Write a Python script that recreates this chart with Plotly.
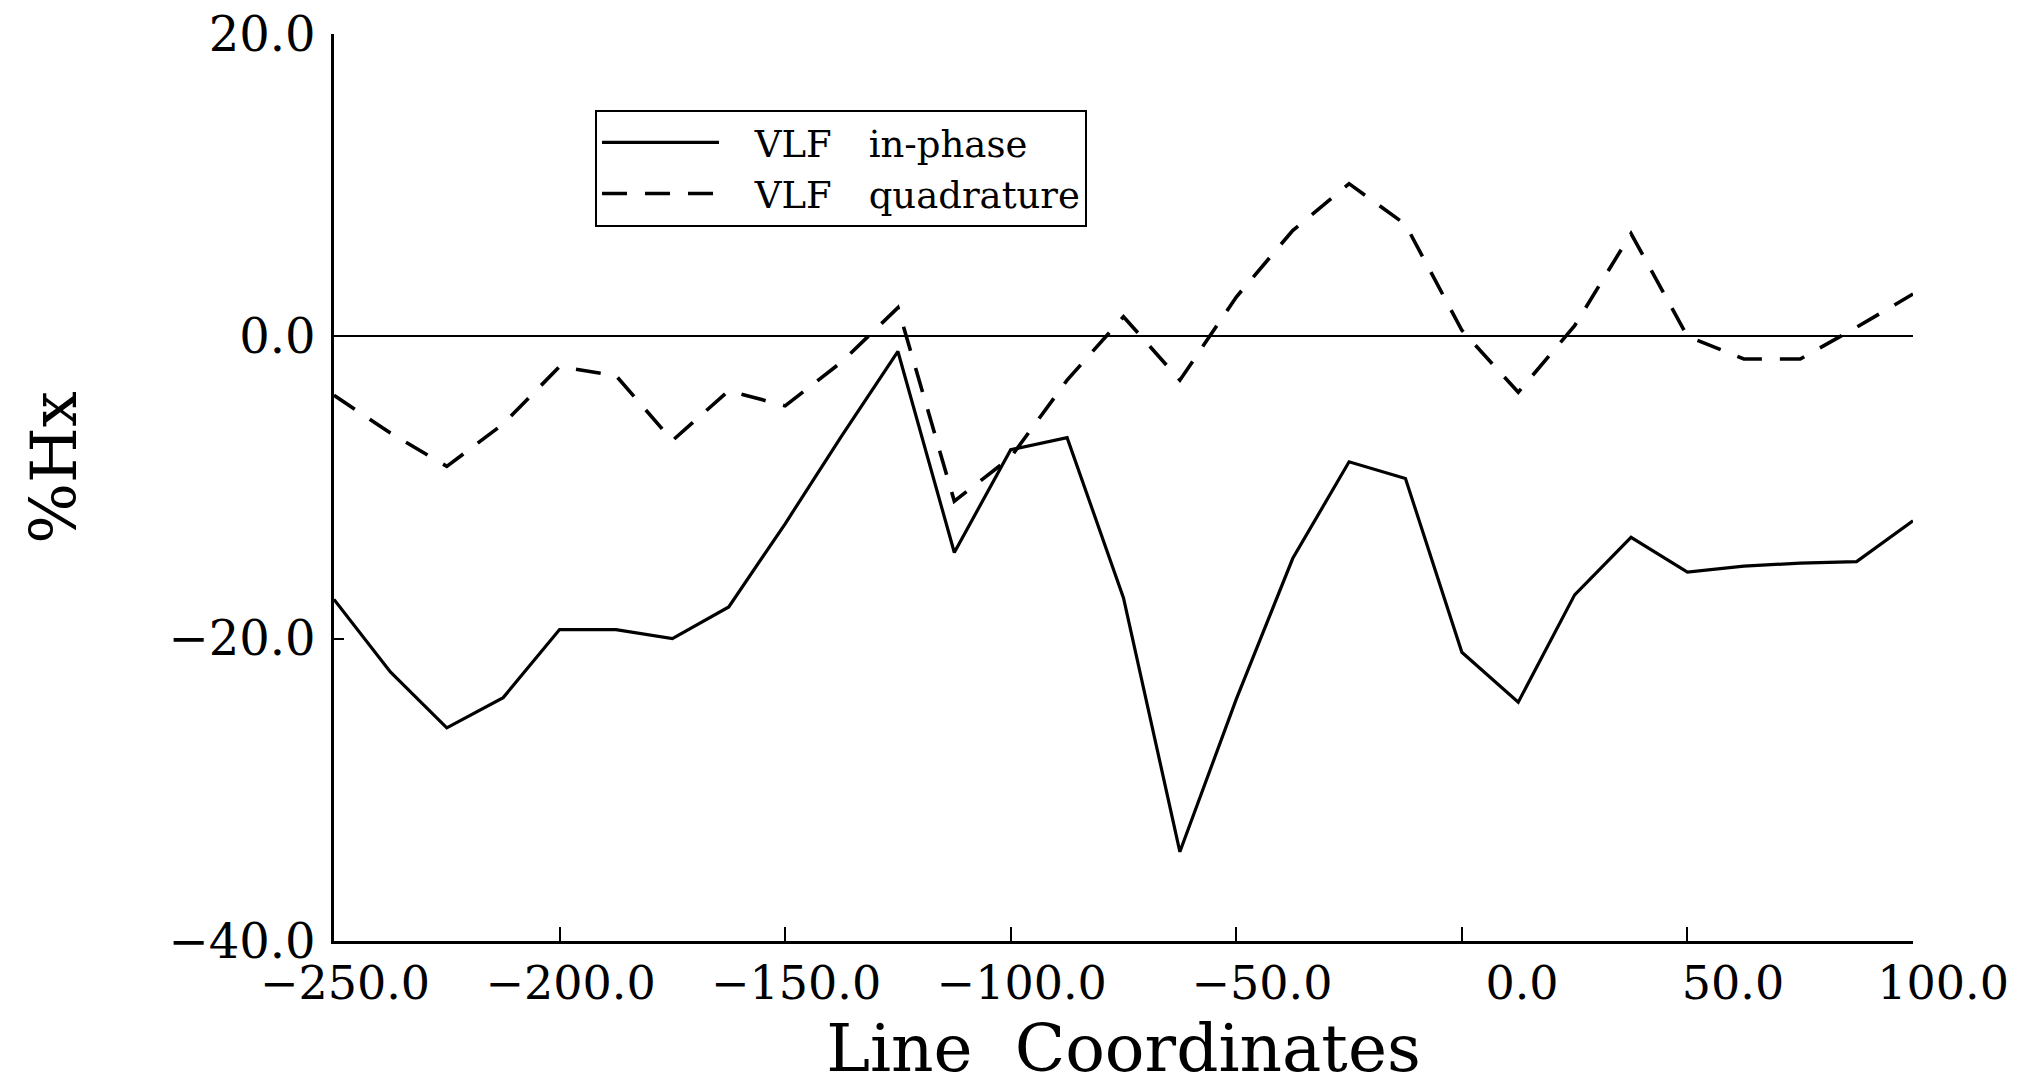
import plotly.graph_objects as go

# Station coordinates along the line (12.5 m spacing)
line_coords = [-250.0, -237.5, -225.0, -212.5, -200.0, -187.5, -175.0, -162.5, -150.0, -137.5,
               -125.0, -112.5, -100.0, -87.5, -75.0, -62.5, -50.0, -37.5, -25.0, -12.5,
               0.0, 12.5, 25.0, 37.5, 50.0, 62.5, 75.0, 87.5, 100.0]

vlf_in_phase = [-17.4, -22.2, -25.9, -23.9, -19.4, -19.4, -20.0, -17.9, -12.4, -6.6,
                -1.0, -14.3, -7.5, -6.7, -17.3, -34.1, -24.0, -14.7, -8.3, -9.4,
                -20.9, -24.2, -17.1, -13.3, -15.6, -15.2, -15.0, -14.9, -12.2]

vlf_quadrature = [-3.9, -6.4, -8.6, -5.8, -2.0, -2.6, -6.9, -3.6, -4.6, -1.7,
                  1.9, -10.9, -8.0, -2.9, 1.3, -2.9, 2.6, 7.0, 10.1, 7.4,
                  0.4, -3.7, 0.7, 6.8, 0.0, -1.5, -1.5, 0.6, 2.8]

series_names = ["\u2002\u2004VLF\u2003in-phase", "\u2002\u2004VLF\u2003quadrature"]

x_tickvals = [-250, -200, -150, -100, -50, 0, 50, 100]
x_ticktext = ["\u2212250.0", "\u2212200.0", "\u2212150.0", "\u2212100.0",
              "\u2007\u221250.0", "\u2003\u2007\u20020.0", "\u2003\u200250.0", "\u2002\u2004100.0"]
y_tickvals = [-40, -20, 0, 20]
y_ticktext = ["\u221240.0", "\u221220.0", "0.0", "20.0"]

x_title = "Line\u00a0\u00a0Coordinates"
y_title = "%Hx"

FONT = "DejaVu Serif"

fig = go.Figure()
fig.add_trace(go.Scatter(
    x=line_coords, y=vlf_in_phase, mode="lines", name=series_names[0],
    line=dict(color="black", width=3.2, dash="solid"),
))
fig.add_trace(go.Scatter(
    x=line_coords, y=vlf_quadrature, mode="lines", name=series_names[1],
    line=dict(color="black", width=3.6, dash="25px,18px"),
))

fig.update_layout(
    template="none",
    width=2028, height=1087,
    paper_bgcolor="white", plot_bgcolor="white",
    margin=dict(l=334, r=115, t=34, b=146, autoexpand=False),
    font=dict(family=FONT, color="black", size=48),
    showlegend=True,
    legend=dict(
        x=0.1653, y=0.9163, xanchor="left", yanchor="top",
        bordercolor="black", borderwidth=2, bgcolor="white",
        font=dict(family=FONT, size=37, color="black"),
        itemwidth=117,
    ),
    xaxis=dict(
        range=[-250, 100], showgrid=False, zeroline=False,
        showline=True, linecolor="black", linewidth=2.8, mirror=False,
        ticks="inside", ticklen=14, tickwidth=1.5, tickcolor="black",
        tickvals=x_tickvals, ticktext=x_ticktext,
        tickfont=dict(family=FONT, size=46, color="black"),
        ticklabelshift=11, ticklabelstandoff=0,
        title=dict(text=x_title, font=dict(family=FONT, size=66, color="black"),
                   standoff=22),
        automargin=False,
    ),
    yaxis=dict(
        range=[-40, 20], showgrid=False,
        zeroline=True, zerolinecolor="black", zerolinewidth=1.6,
        showline=True, linecolor="black", linewidth=2.8, mirror=False,
        ticks="inside", ticklen=10, tickwidth=1.5, tickcolor="black",
        tickvals=y_tickvals, ticktext=y_ticktext,
        tickfont=dict(family=FONT, size=48, color="black"),
        ticklabelstandoff=6,
        automargin=False,
    ),
    annotations=[dict(
        text=y_title, xref="paper", yref="paper", x=-0.1773, y=0.5218,
        xanchor="center", yanchor="middle", textangle=-90, showarrow=False,
        font=dict(family=FONT, size=64, color="black"),
    )],
)

fig.write_html("out.html")
